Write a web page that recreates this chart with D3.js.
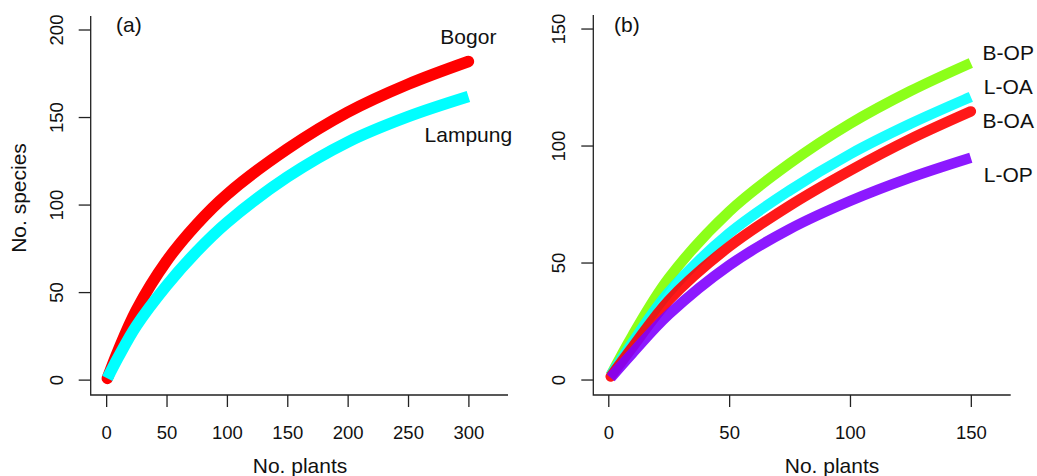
<!DOCTYPE html>
<html>
<head>
<meta charset="utf-8">
<script src="https://cdn.jsdelivr.net/npm/d3@7"></script>
<style>
  html, body { margin: 0; padding: 0; background: #fff; }
  svg text { font-family: "Liberation Sans", Arial, Helvetica, sans-serif; fill: #111; }
</style>
</head>
<body>
<div id="viz-container"></div>
<script>
// ---------- DATA ----------
// panel (a): sites
const plantsA  = [1, 10, 25, 50, 75, 100, 150, 200, 250, 300];
const bogor    = [1, 17, 40, 68, 89, 106, 132, 153, 169, 182];
const lampung  = [1, 13, 31, 54, 73.5, 90, 116, 136, 150.5, 162];

// panel (b): site x habitat
const plantsB  = [1, 10, 25, 50, 75, 100, 125, 150];
const bOP      = [2, 19, 43.5, 72, 92.5, 109.5, 123.5, 135.5];
const lOA      = [2, 16, 37.5, 62.7, 81, 96.5, 109.5, 121];
const bOA      = [1.5, 14, 34, 57, 74.5, 89.5, 103, 114.8];
const lOP      = [1, 11.5, 28, 49, 64.5, 76.5, 86.5, 95];

const ticksA_x = [0, 50, 100, 150, 200, 250, 300];
const ticksA_y = [0, 50, 100, 150, 200];
const ticksB_x = [0, 50, 100, 150];
const ticksB_y = [0, 50, 100, 150];

(function () {
  const W = 1037, H = 476;
  const svg = d3.select("#viz-container").append("svg")
    .attr("width", W).attr("height", H);
  svg.append("rect").attr("width", W).attr("height", H).attr("fill", "#fff");

  const axisCol = "#222";

  function panel(o) {
    const x = d3.scaleLinear().domain(o.xlim).range([o.left, o.right]);
    const y = d3.scaleLinear().domain(o.ylim).range([o.bottom, o.top]);
    const g = svg.append("g");

    // L-shaped box
    g.append("path")
      .attr("d", `M${o.left},${o.top}V${o.bottom}H${o.right}`)
      .attr("fill", "none").attr("stroke", axisCol).attr("stroke-width", 1.3);

    // y axis (labels rotated, like R's las = 0)
    const ya = g.append("g").attr("transform", `translate(${o.left},0)`)
      .call(d3.axisLeft(y).tickValues(o.yt).tickSize(12).tickSizeOuter(0));
    ya.select(".domain").remove();
    ya.selectAll(".tick").attr("transform", null);
    ya.selectAll(".tick line")
      .attr("stroke", axisCol).attr("stroke-width", 1.3)
      .attr("transform", d => `translate(0,${y(d)})`);
    ya.selectAll(".tick text")
      .attr("font-size", 18.5).attr("fill", "#111")
      .attr("x", 0).attr("y", 0).attr("dy", null)
      .attr("text-anchor", "middle")
      .attr("transform", d => `translate(-28,${y(d)}) rotate(-90)`);

    // x axis
    const xa = g.append("g").attr("transform", `translate(0,${o.bottom})`)
      .call(d3.axisBottom(x).tickValues(o.xt).tickSize(12).tickSizeOuter(0));
    xa.select(".domain").remove();
    xa.selectAll("line").attr("stroke", axisCol).attr("stroke-width", 1.3);
    xa.selectAll("text").attr("font-size", 18.5).attr("fill", "#111")
      .attr("y", 43.5).attr("dy", null);

    // x title
    g.append("text").attr("x", o.xTitleX).attr("y", 473)
      .attr("text-anchor", "middle").attr("font-size", 21).text("No. plants");

    // panel tag
    g.append("text").attr("x", o.tagX).attr("y", 32)
      .attr("font-size", 21).text(o.tag);

    // curves
    const line = d3.line()
      .x((d, i) => x(o.plants[i]))
      .y(d => y(d))
      .curve(d3.curveCatmullRom.alpha(0.5));
    o.series.forEach(s => {
      g.append("path")
        .datum(s.values)
        .attr("d", line)
        .attr("fill", "none")
        .attr("stroke", s.color)
        .attr("stroke-opacity", s.opacity || 1)
        .attr("stroke-width", s.width)
        .attr("stroke-linecap", s.cap)
        .attr("stroke-linejoin", "round");
    });

    // labels
    o.labels.forEach(l => {
      g.append("text")
        .attr("x", x(l.x)).attr("y", y(l.y))
        .attr("dy", "0.36em")
        .attr("text-anchor", "middle")
        .attr("font-size", 21).text(l.text);
    });
    return { x, y };
  }

  panel({
    left: 90.7, right: 508, top: 16, bottom: 395,
    xlim: [-12.8, 332.8], ylim: [-8.5, 208],
    xt: ticksA_x, yt: ticksA_y,
    plants: plantsA,
    xTitleX: 300, tag: "(a)", tagX: 116,
    series: [
      { values: bogor,   color: "#ff0000", width: 11.5, cap: "round" },
      { values: lampung, color: "#00ffff", width: 11.5, cap: "butt" }
    ],
    labels: [
      { text: "Bogor",   x: 300, y: 196.5 },
      { text: "Lampung", x: 300, y: 140.5 }
    ]
  });

  panel({
    left: 593.3, right: 1010.7, top: 15, bottom: 395,
    xlim: [-6.2, 166.5], ylim: [-6.4, 156],
    xt: ticksB_x, yt: ticksB_y,
    plants: plantsB,
    xTitleX: 832, tag: "(b)", tagX: 614,
    series: [
      { values: bOP, color: "#80ff00", width: 10.5, cap: "butt", opacity: 0.9 },
      { values: lOA, color: "#00ffff", width: 10.5, cap: "butt", opacity: 0.9 },
      { values: bOA, color: "#ff0000", width: 10.5, cap: "round", opacity: 0.9 },
      { values: lOP, color: "#8000ff", width: 10.5, cap: "butt", opacity: 0.9 }
    ],
    labels: [
      { text: "B-OP", x: 165.5, y: 140 },
      { text: "L-OA", x: 165.5, y: 125.5 },
      { text: "B-OA", x: 165.5, y: 111 },
      { text: "L-OP", x: 165.5, y: 88 }
    ]
  });

  // y title (panel a only)
  svg.append("text")
    .attr("transform", "translate(26,198) rotate(-90)")
    .attr("text-anchor", "middle").attr("font-size", 21)
    .text("No. species");
})();
</script>
</body>
</html>
